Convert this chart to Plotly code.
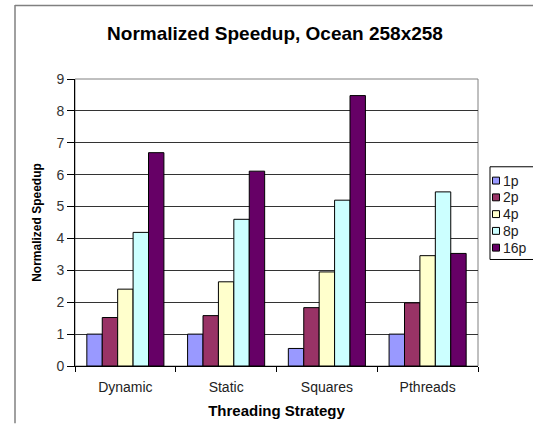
import plotly.graph_objects as go

categories = ["Dynamic", "Static", "Squares", "Pthreads"]
series_names = ["1p", "2p", "4p", "8p", "16p"]
values_1p = [1.0, 1.0, 0.55, 1.0]
values_2p = [1.52, 1.58, 1.83, 1.98]
values_4p = [2.41, 2.64, 2.95, 3.46]
values_8p = [4.19, 4.6, 5.2, 5.46]
values_16p = [6.69, 6.11, 8.48, 3.53]
colors = ["#9999FF", "#993366", "#FFFFCC", "#CCFFFF", "#660066"]
y_ticks = list(range(0, 10))

all_values = [values_1p, values_2p, values_4p, values_8p, values_16p]

W, H = 533, 428
ML, MR, MT, MB = 75, 55, 79, 58
PW, PH = W - ML - MR, H - MT - MB


def px(x):
    return (x - ML) / PW


def py(y):
    return (H - MB - y) / PH


fig = go.Figure()
for name, vals, col in zip(series_names, all_values, colors):
    fig.add_trace(go.Bar(
        x=categories, y=vals, name=name,
        marker=dict(color=col, line=dict(color="#000000", width=1)),
    ))

font_family = "Liberation Sans, Arial, sans-serif"

shapes = [
    # plot area frame
    dict(type="rect", xref="paper", yref="paper", x0=0, x1=1, y0=0, y1=1,
         line=dict(color="#808080", width=1), layer="below"),
    # outer chart border (left and top visible)
    dict(type="line", xref="paper", yref="paper", x0=px(15), x1=px(15), y0=py(4), y1=py(428),
         line=dict(color="#808080", width=1.5)),
    dict(type="line", xref="paper", yref="paper", x0=px(15), x1=px(533), y0=py(4.5), y1=py(4.5),
         line=dict(color="#808080", width=1.5)),
    # legend box
    dict(type="rect", xref="paper", yref="paper", x0=px(490), x1=px(540), y0=py(168), y1=py(262),
         line=dict(color="#000", width=1), fillcolor="white"),
]
annotations = []
item_y = [182, 199, 216, 233, 250]
for name, col, yy in zip(series_names, colors, item_y):
    shapes.append(dict(type="rect", xref="paper", yref="paper",
                       x0=px(492.5), x1=px(499.5), y0=py(yy - 3.5), y1=py(yy + 3.5),
                       line=dict(color="#000", width=1), fillcolor=col))
    annotations.append(dict(xref="paper", yref="paper", x=px(501), y=py(yy),
                            xanchor="left", yanchor="middle", text=name, showarrow=False,
                            font=dict(size=14, color="#222")))

fig.update_layout(
    width=W, height=H,
    margin=dict(l=ML, r=MR, t=MT, b=MB),
    paper_bgcolor="white", plot_bgcolor="white",
    barmode="group", bargap=0.235, bargroupgap=0,
    font=dict(family=font_family, size=12, color="#000"),
    title=dict(text="<b>Normalized Speedup, Ocean 258x258</b>",
               xref="paper", x=px(275), xanchor="center", y=1 - 33 / H, yanchor="middle",
               font=dict(size=19, color="#000")),
    showlegend=False,
    xaxis=dict(
        showline=True, linecolor="#000", linewidth=1,
        ticks="outside", tickson="boundaries", ticklen=5, tickcolor="#000",
        showgrid=False, ticklabelstandoff=8,
        title=dict(text="<b>Threading Strategy</b>", font=dict(size=15), standoff=11),
        tickfont=dict(size=14, color="#222"),
    ),
    yaxis=dict(
        range=[0, 9], tickvals=y_ticks,
        showline=True, linecolor="#000", linewidth=1,
        ticks="outside", ticklen=7, tickcolor="#000",
        showgrid=True, gridcolor="#333", gridwidth=1,
        zeroline=False,
        title=dict(text="<b>Normalized Speedup</b>", font=dict(size=12), standoff=12),
        tickfont=dict(size=14, color="#333"),
    ),
    shapes=shapes,
    annotations=annotations,
)

fig.write_html("out.html", config={"displayModeBar": False},
               post_script="document.body.style.margin='0';")
